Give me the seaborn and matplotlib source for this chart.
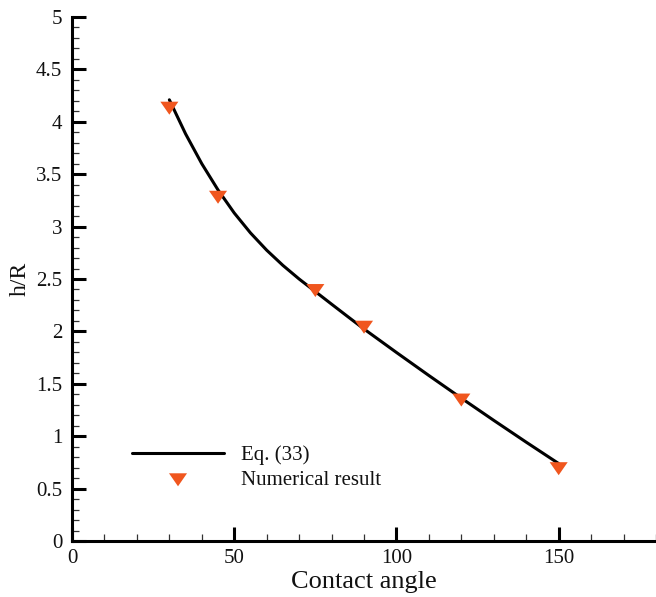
import numpy as np
import pandas as pd
import matplotlib
matplotlib.use("Agg")
import matplotlib.pyplot as plt
from matplotlib.ticker import MultipleLocator
import seaborn as sns

# Eq. (33) curve, sampled contact angles (degrees) and h/R
theta_eq = [30, 35, 40, 45, 50, 55, 60, 65, 70, 75, 80, 85, 90, 95, 100,
            105, 110, 115, 120, 125, 130, 135, 140, 145, 150]
hr_eq = [4.210, 3.885, 3.600, 3.350, 3.130, 2.940, 2.775, 2.630, 2.500,
         2.380, 2.260, 2.141, 2.023, 1.911, 1.799, 1.689, 1.579, 1.471,
         1.363, 1.257, 1.151, 1.047, 0.943, 0.841, 0.739]

# Numerical results
theta_num = [30, 45, 75, 90, 120, 150]
hr_num = [4.13, 3.28, 2.39, 2.04, 1.345, 0.69]

label_eq = "Eq. (33)"
label_num = "Numerical result"

sns.set_theme(style="ticks")
plt.rcParams["font.family"] = ["Liberation Serif", "DejaVu Serif"]

df_eq = pd.DataFrame({"theta": theta_eq, "hr": hr_eq})
df_num = pd.DataFrame({"theta": theta_num, "hr": hr_num})

fig = plt.figure(figsize=(6.56, 5.97), dpi=100)
ax = fig.add_axes([0.1098, 0.0938, 0.8902, 0.8777])

sns.lineplot(data=df_eq, x="theta", y="hr", ax=ax, color="black",
             linewidth=2.2, label=label_eq, sort=False)

tri = [(-1.0, 0.72), (1.0, 0.72), (0.0, -0.72)]
sns.scatterplot(data=df_num, x="theta", y="hr", ax=ax, marker=tri,
                s=13 ** 2, color="#F0561E", edgecolor="none", linewidth=0,
                label=label_num, zorder=3)

ax.set_xlim(0, 180)
ax.set_ylim(0, 5)
ax.xaxis.set_major_locator(MultipleLocator(50))
ax.xaxis.set_minor_locator(MultipleLocator(10))
ax.yaxis.set_minor_locator(MultipleLocator(0.1))
ax.set_yticks(np.arange(0, 5.01, 0.5))
ax.set_yticklabels(["0", "0.5", "1", "1.5", "2", "2.5", "3", "3.5", "4", "4.5", "5"])

sns.despine(ax=ax, top=True, right=True)
for side in ("left", "bottom"):
    ax.spines[side].set_linewidth(2.2)
    ax.spines[side].set_color("black")

ax.tick_params(which="major", direction="in", length=10, width=2.2,
               color="black", labelsize=15, pad=7, labelcolor="#111111")
ax.tick_params(which="minor", direction="in", length=5, width=0.9,
               color="#333333")
ax.tick_params(axis="x", which="major", pad=6)

ax.set_xlabel("Contact angle", fontsize=19, labelpad=2, color="#111111")
ax.set_ylabel("h/R", fontsize=17, labelpad=4, color="#111111")

leg = ax.legend(loc="upper left", bbox_to_anchor=(0.103, 0.183),
                frameon=False, fontsize=15, handlelength=4.4,
                handletextpad=0.8, labelspacing=0.28, borderpad=0,
                borderaxespad=0, markerscale=1.0)
for t in leg.get_texts():
    t.set_color("#111111")

fig.savefig("out.png", dpi=100)
